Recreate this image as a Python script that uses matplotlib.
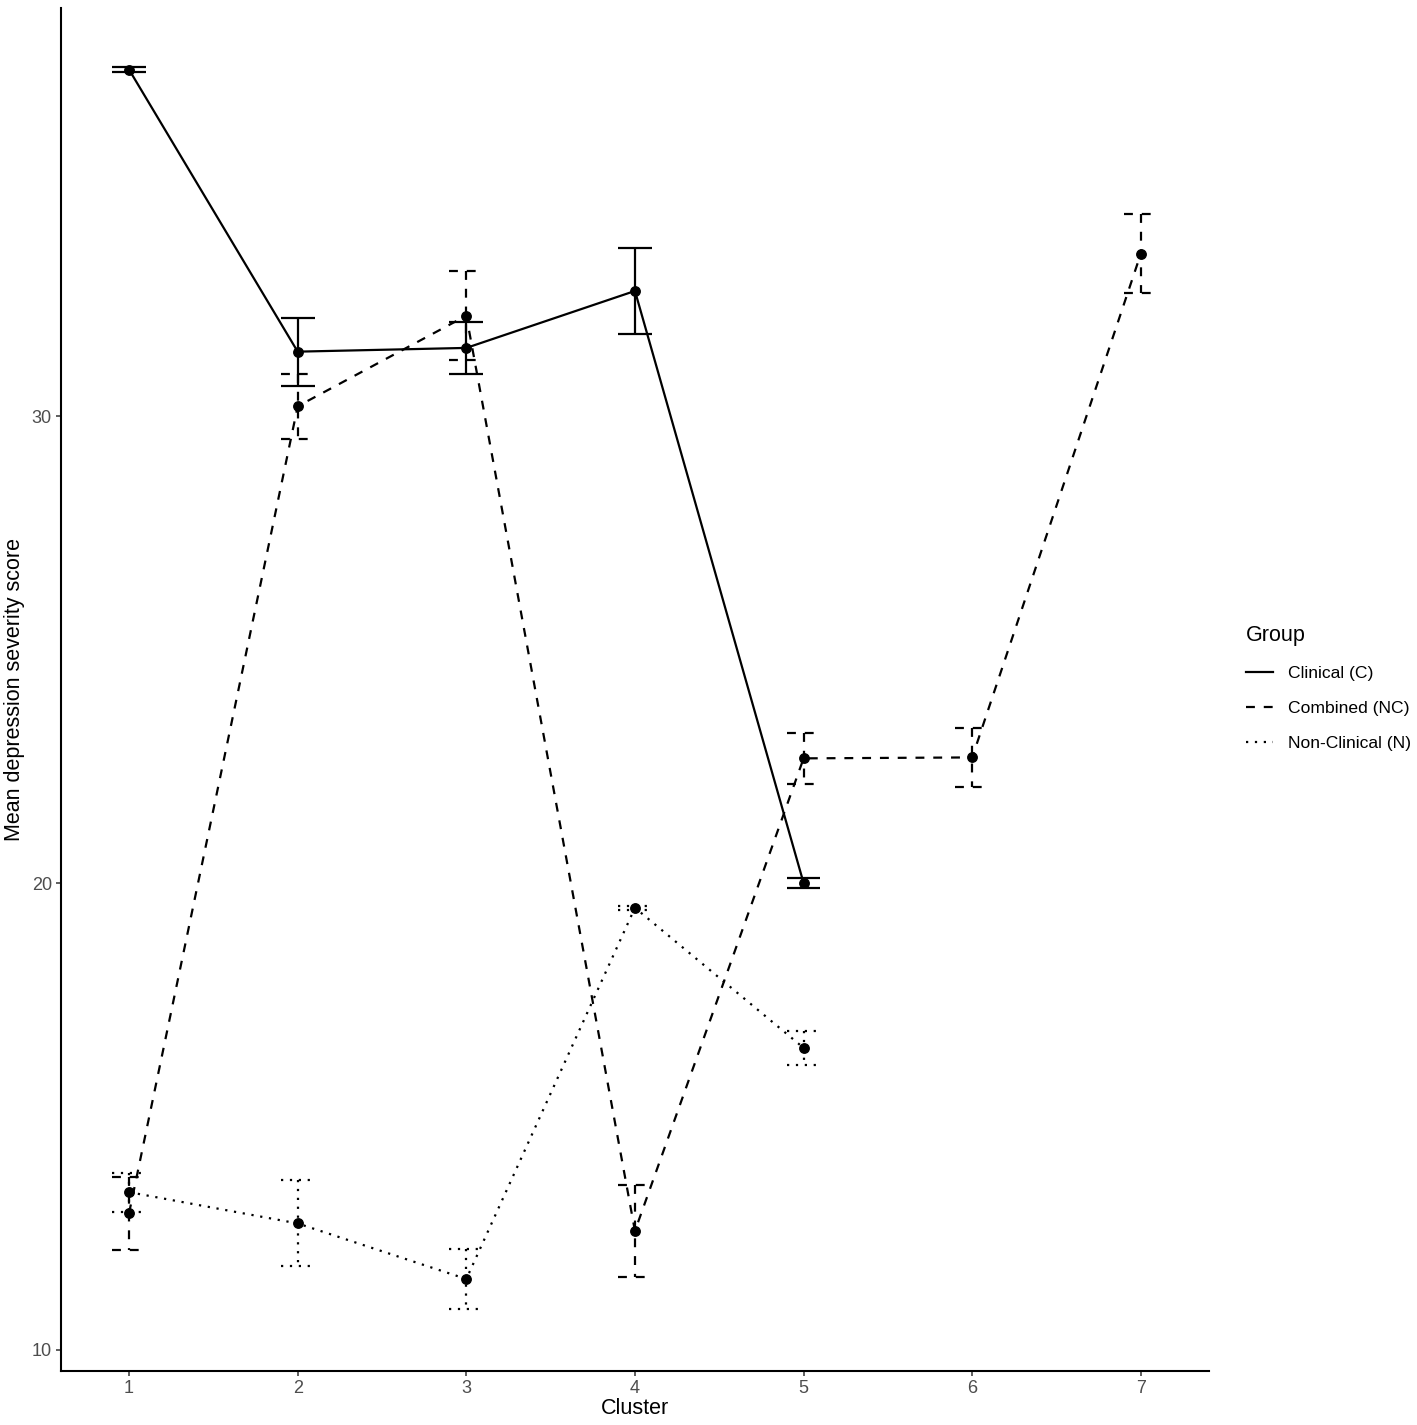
import numpy as np
import matplotlib.pyplot as plt
from matplotlib.lines import Line2D

plt.rcParams['font.family'] = ['Liberation Sans', 'DejaVu Sans']

# mean depression severity per cluster, with error half-widths
clin_x = [1, 2, 3, 4, 5]
clin_y = [37.42, 31.38, 31.46, 32.68, 20.0]
clin_e = [0.05, 0.73, 0.55, 0.93, 0.11]

comb_x = [1, 2, 3, 4, 5, 6, 7]
comb_y = [12.93, 30.21, 32.15, 12.55, 22.67, 22.69, 33.48]
comb_e = [0.78, 0.70, 0.95, 0.98, 0.55, 0.64, 0.84]

non_x = [1, 2, 3, 4, 5]
non_y = [13.38, 12.71, 11.52, 19.47, 16.47]
non_e = [0.42, 0.92, 0.64, 0.04, 0.37]

groups = ['Clinical (C)', 'Combined (NC)', 'Non-Clinical (N)']
styles = ['-', (0, (4, 4)), (0, (1, 3))]
xticks = [1, 2, 3, 4, 5, 6, 7]
yticks = [10, 20, 30]

lw = 1.6
capw = 0.1

fig = plt.figure(figsize=(14.17, 14.25), dpi=100)
ax = fig.add_axes([0.0430, 0.0379, 0.8102, 0.9565])

series = [(clin_x, clin_y, clin_e), (comb_x, comb_y, comb_e), (non_x, non_y, non_e)]
for (xs, ys, es), ls in zip(series, styles):
    xs = np.array(xs, float)
    ys = np.array(ys)
    es = np.array(es)
    for x, y, e in zip(xs, ys, es):
        ax.plot([x - capw, x + capw], [y + e, y + e], color='black', lw=lw, ls=ls,
                solid_capstyle='butt', dash_capstyle='butt')
        ax.plot([x, x], [y + e, y - e], color='black', lw=lw, ls=ls,
                solid_capstyle='butt', dash_capstyle='butt')
        ax.plot([x - capw, x + capw], [y - e, y - e], color='black', lw=lw, ls=ls,
                solid_capstyle='butt', dash_capstyle='butt')
    ax.plot(xs, ys, color='black', lw=lw, ls=ls, dash_capstyle='butt')
    ax.plot(xs, ys, 'o', color='black', ms=6.8, zorder=5)

ax.set_xlim(0.596, 7.404)
ax.set_ylim(9.55, 38.74)
ax.set_xticks(xticks)
ax.set_yticks(yticks)
ax.tick_params(axis='both', labelsize=13, labelcolor='#4D4D4D', length=3.5, width=1.1,
               color='#333333', pad=3)
for s in ['top', 'right']:
    ax.spines[s].set_visible(False)
for s in ['left', 'bottom']:
    ax.spines[s].set_linewidth(1.5)

ax.set_xlabel('Cluster', fontsize=15.5, labelpad=1)
ax.set_ylabel('Mean depression severity score', fontsize=15.5, labelpad=5)

handles = [Line2D([], [], color='black', lw=lw, ls=ls) for ls in styles]
leg = fig.legend(handles, groups, loc='center left', bbox_to_anchor=(0.868, 0.517),
                 frameon=False, fontsize=12.6, title='Group', title_fontsize=15.5,
                 handlelength=1.55, handletextpad=0.85, labelspacing=1.12,
                 alignment='left')

fig.savefig('out.png', dpi=100)
